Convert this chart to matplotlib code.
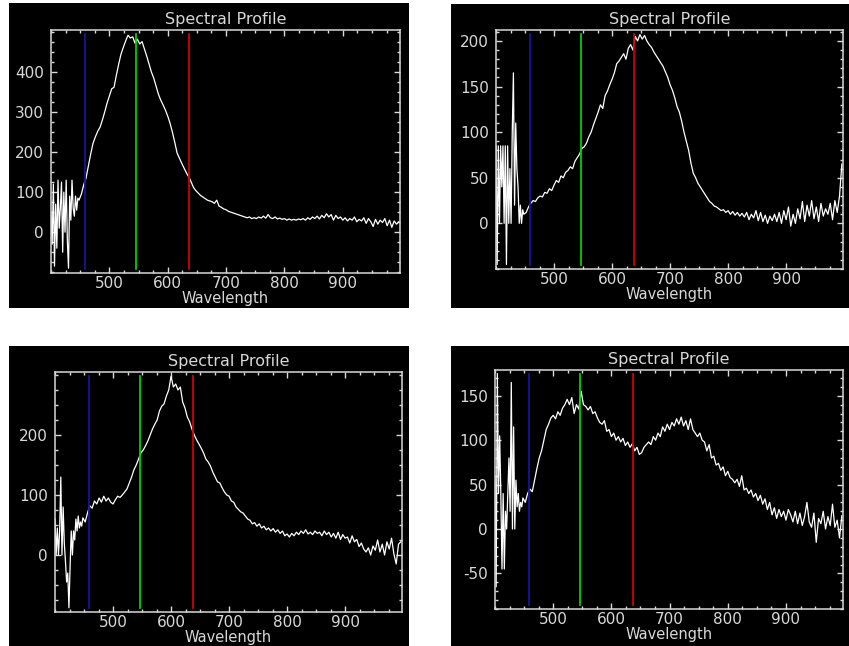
import numpy as np
import matplotlib
matplotlib.use("Agg")
import matplotlib.pyplot as plt
from matplotlib.ticker import MultipleLocator

plt.rcParams["axes.unicode_minus"] = False

# wavelength grid (fine in the noisy blue end, coarser after)
wl_blue = list(range(400, 450, 2))
wl_rest = list(range(452, 1000, 4))
wavelength = np.array(wl_blue + wl_rest)

band_lines = [459, 546, 637]
band_colors = ["#1414a0", "#00d000", "#d00000"]

spec_a = [50, -30, 120, -85, 70, -40, 130, 10, 60, 125, -50, 100, 0,
          130, -20, -90, 90, 30, 130, 60, 40, 90, 55, 85, 80,
          95, 118, 135, 165, 195, 222, 238, 252, 262, 280,
          300, 322, 340, 358, 362, 392, 420, 445, 462, 478,
          492, 485, 488, 472, 482, 470, 476, 458, 440, 420,
          400, 385, 365, 345, 330, 318, 305, 290, 272, 250,
          225, 198, 185, 172, 160, 148, 138, 126, 112, 104,
          98, 92, 88, 84, 80, 78, 76, 72, 80, 65,
          62, 58, 56, 52, 50, 48, 46, 44, 42, 40,
          38, 36, 38, 34, 36, 34, 38, 35, 40, 35,
          44, 36, 34, 38, 33, 35, 32, 34, 30, 33,
          30, 32, 30, 33, 31, 34, 30, 36, 32, 38,
          34, 40, 33, 42, 36, 46, 38, 44, 30, 42,
          34, 38, 30, 36, 28, 34, 30, 38, 26, 32,
          28, 36, 22, 34, 26, 14, 32, 20, 30, 24,
          34, 16, 30, 12, 28, 20, 26]

spec_b = [85, -45, 85, 0, 85, 40, 85, 0, 85, -45, 85, 0, 60,
          0, 100, 165, 20, 110, 60, 40, 0, 20, 0, 15, 10,
          12, 18, 22, 25, 24, 28, 30, 29, 34, 33,
          38, 36, 42, 47, 45, 52, 50, 56, 58, 62,
          60, 68, 72, 76, 82, 84, 88, 95, 100, 108,
          115, 122, 130, 126, 140, 145, 152, 158, 165, 175,
          178, 182, 186, 180, 192, 196, 190, 205, 200, 207,
          202, 206, 200, 196, 193, 188, 184, 180, 176, 172,
          166, 160, 152, 146, 138, 128, 122, 112, 100, 90,
          80, 66, 55, 50, 44, 40, 36, 32, 28, 24,
          22, 19, 18, 16, 14, 15, 12, 14, 10, 13,
          9, 12, 8, 11, 7, 12, 4, 10, 6, 14,
          3, 12, 2, 9, 0, 8, 3, 10, 2, 12,
          0, 14, 4, 18, -3, 10, 0, 16, 5, 24,
          2, 20, 8, 25, 5, 18, 2, 22, 8, 16,
          10, 22, 4, 25, 12, 30, 65]

spec_c = [60, 0, 45, 0, 40, 130, 0, 80, 20, -10, -45, -30, -88,
          -20, 40, 0, 40, 25, 60, 40, 65, 45, 55, 48, 62,
          55, 70, 82, 78, 90, 85, 95, 88, 98, 90,
          95, 88, 85, 92, 98, 96, 100, 105, 110, 120,
          130, 142, 150, 160, 170, 175, 182, 190, 200, 210,
          218, 225, 240, 248, 252, 265, 275, 298, 280, 285,
          275, 280, 255, 245, 230, 222, 210, 200, 192, 185,
          178, 170, 160, 155, 148, 138, 130, 122, 120, 112,
          105, 100, 98, 90, 88, 80, 76, 72, 70, 65,
          60, 58, 52, 54, 48, 52, 45, 48, 42, 45,
          40, 44, 38, 42, 36, 40, 32, 35, 30, 36,
          32, 38, 34, 40, 36, 42, 35, 38, 34, 40,
          36, 38, 32, 40, 34, 38, 30, 36, 28, 38,
          26, 34, 28, 30, 20, 32, 22, 26, 14, 20,
          10, 5, 12, 0, 15, 8, 25, 5, 18, 0,
          22, 10, 28, 2, -15, 18, 22]

spec_d = [60, -65, 175, 40, 105, 40, -45, 40, -45, 20, 0, 40, 80,
          20, 165, 0, 115, 0, 55, 25, 40, 20, 30, 25, 35,
          30, 40, 45, 42, 55, 68, 80, 88, 100, 112,
          118, 125, 128, 124, 132, 128, 136, 140, 146, 140,
          148, 130, 140, 135, 155, 140, 138, 134, 138, 130,
          132, 125, 120, 118, 122, 110, 112, 104, 108, 100,
          104, 98, 102, 94, 98, 92, 96, 88, 92, 84,
          86, 92, 95, 98, 95, 104, 100, 108, 104, 115,
          110, 118, 112, 120, 116, 124, 118, 126, 116, 122,
          112, 124, 112, 108, 104, 108, 100, 98, 88, 95,
          80, 82, 72, 74, 66, 70, 60, 65, 58, 56,
          52, 56, 48, 60, 44, 46, 40, 44, 36, 40,
          32, 38, 28, 34, 22, 30, 16, 24, 12, 22,
          14, 20, 10, 22, 16, 8, 20, 6, 18, 4,
          14, 30, 8, 2, 18, -15, 12, 6, 20, 0,
          14, 4, 28, 2, 10, -10, 15]

spectra = [spec_a, spec_b, spec_c, spec_d]
y_limits = [(-102, 505), (-50, 212), (-95, 305), (-90, 179)]
y_major = [[0, 100, 200, 300, 400], [0, 50, 100, 150, 200],
           [0, 100, 200], [-50, 0, 50, 100, 150]]
y_minor = [25, 10, 25, 10]
x_major = [500, 600, 700, 800, 900]

W, H = 849, 646
# black window rectangles and plot boxes, in pixels (left, top, right, bottom)
windows = [(9, 3, 409, 308), (451, 4, 849, 308),
           (9, 346, 409, 646), (451, 346, 849, 646)]
boxes = [(51, 30, 400, 273), (496, 30, 843, 269),
         (55, 372, 402, 612), (495, 370, 843, 609)]

fg = "#d8d8d8"

fig = plt.figure(figsize=(W / 100, H / 100), dpi=100)
fig.patch.set_facecolor("white")


def frac(l, t, r, b):
    return [l / W, 1 - b / H, (r - l) / W, (b - t) / H]


for i in range(4):
    bg = fig.add_axes(frac(*windows[i]))
    bg.set_facecolor("black")
    bg.set_xticks([])
    bg.set_yticks([])
    for s in bg.spines.values():
        s.set_visible(False)

    ax = fig.add_axes(frac(*boxes[i]))
    ax.set_facecolor("black")
    ax.plot(wavelength, spectra[i], color="white", lw=0.9)
    for x, c in zip(band_lines, band_colors):
        ax.axvline(x, ymin=0.015, ymax=0.985, color=c, lw=1.3)

    ax.set_xlim(400, 998)
    ax.set_ylim(*y_limits[i])
    ax.set_xticks(x_major)
    ax.xaxis.set_minor_locator(MultipleLocator(25))
    ax.set_yticks(y_major[i])
    ax.yaxis.set_minor_locator(MultipleLocator(y_minor[i]))
    ax.tick_params(which="both", direction="in", top=True, right=True,
                   colors=fg, labelcolor=fg, labelsize=11, width=1.0)
    ax.tick_params(which="major", length=4.5)
    ax.tick_params(which="minor", length=2.5)
    ax.tick_params(axis="x", pad=2)
    ax.tick_params(axis="y", pad=5)
    for s in ax.spines.values():
        s.set_color(fg)
        s.set_linewidth(1.1)

    ax.annotate("Spectral Profile", xy=(0.5, 1), xycoords="axes fraction",
                xytext=(0, 4), textcoords="offset points",
                ha="center", va="baseline", color=fg, fontsize=11.5)
    ax.set_xlabel("Wavelength", color=fg, fontsize=10.5, labelpad=0)

fig.savefig("out.png", dpi=100, facecolor=fig.get_facecolor())
